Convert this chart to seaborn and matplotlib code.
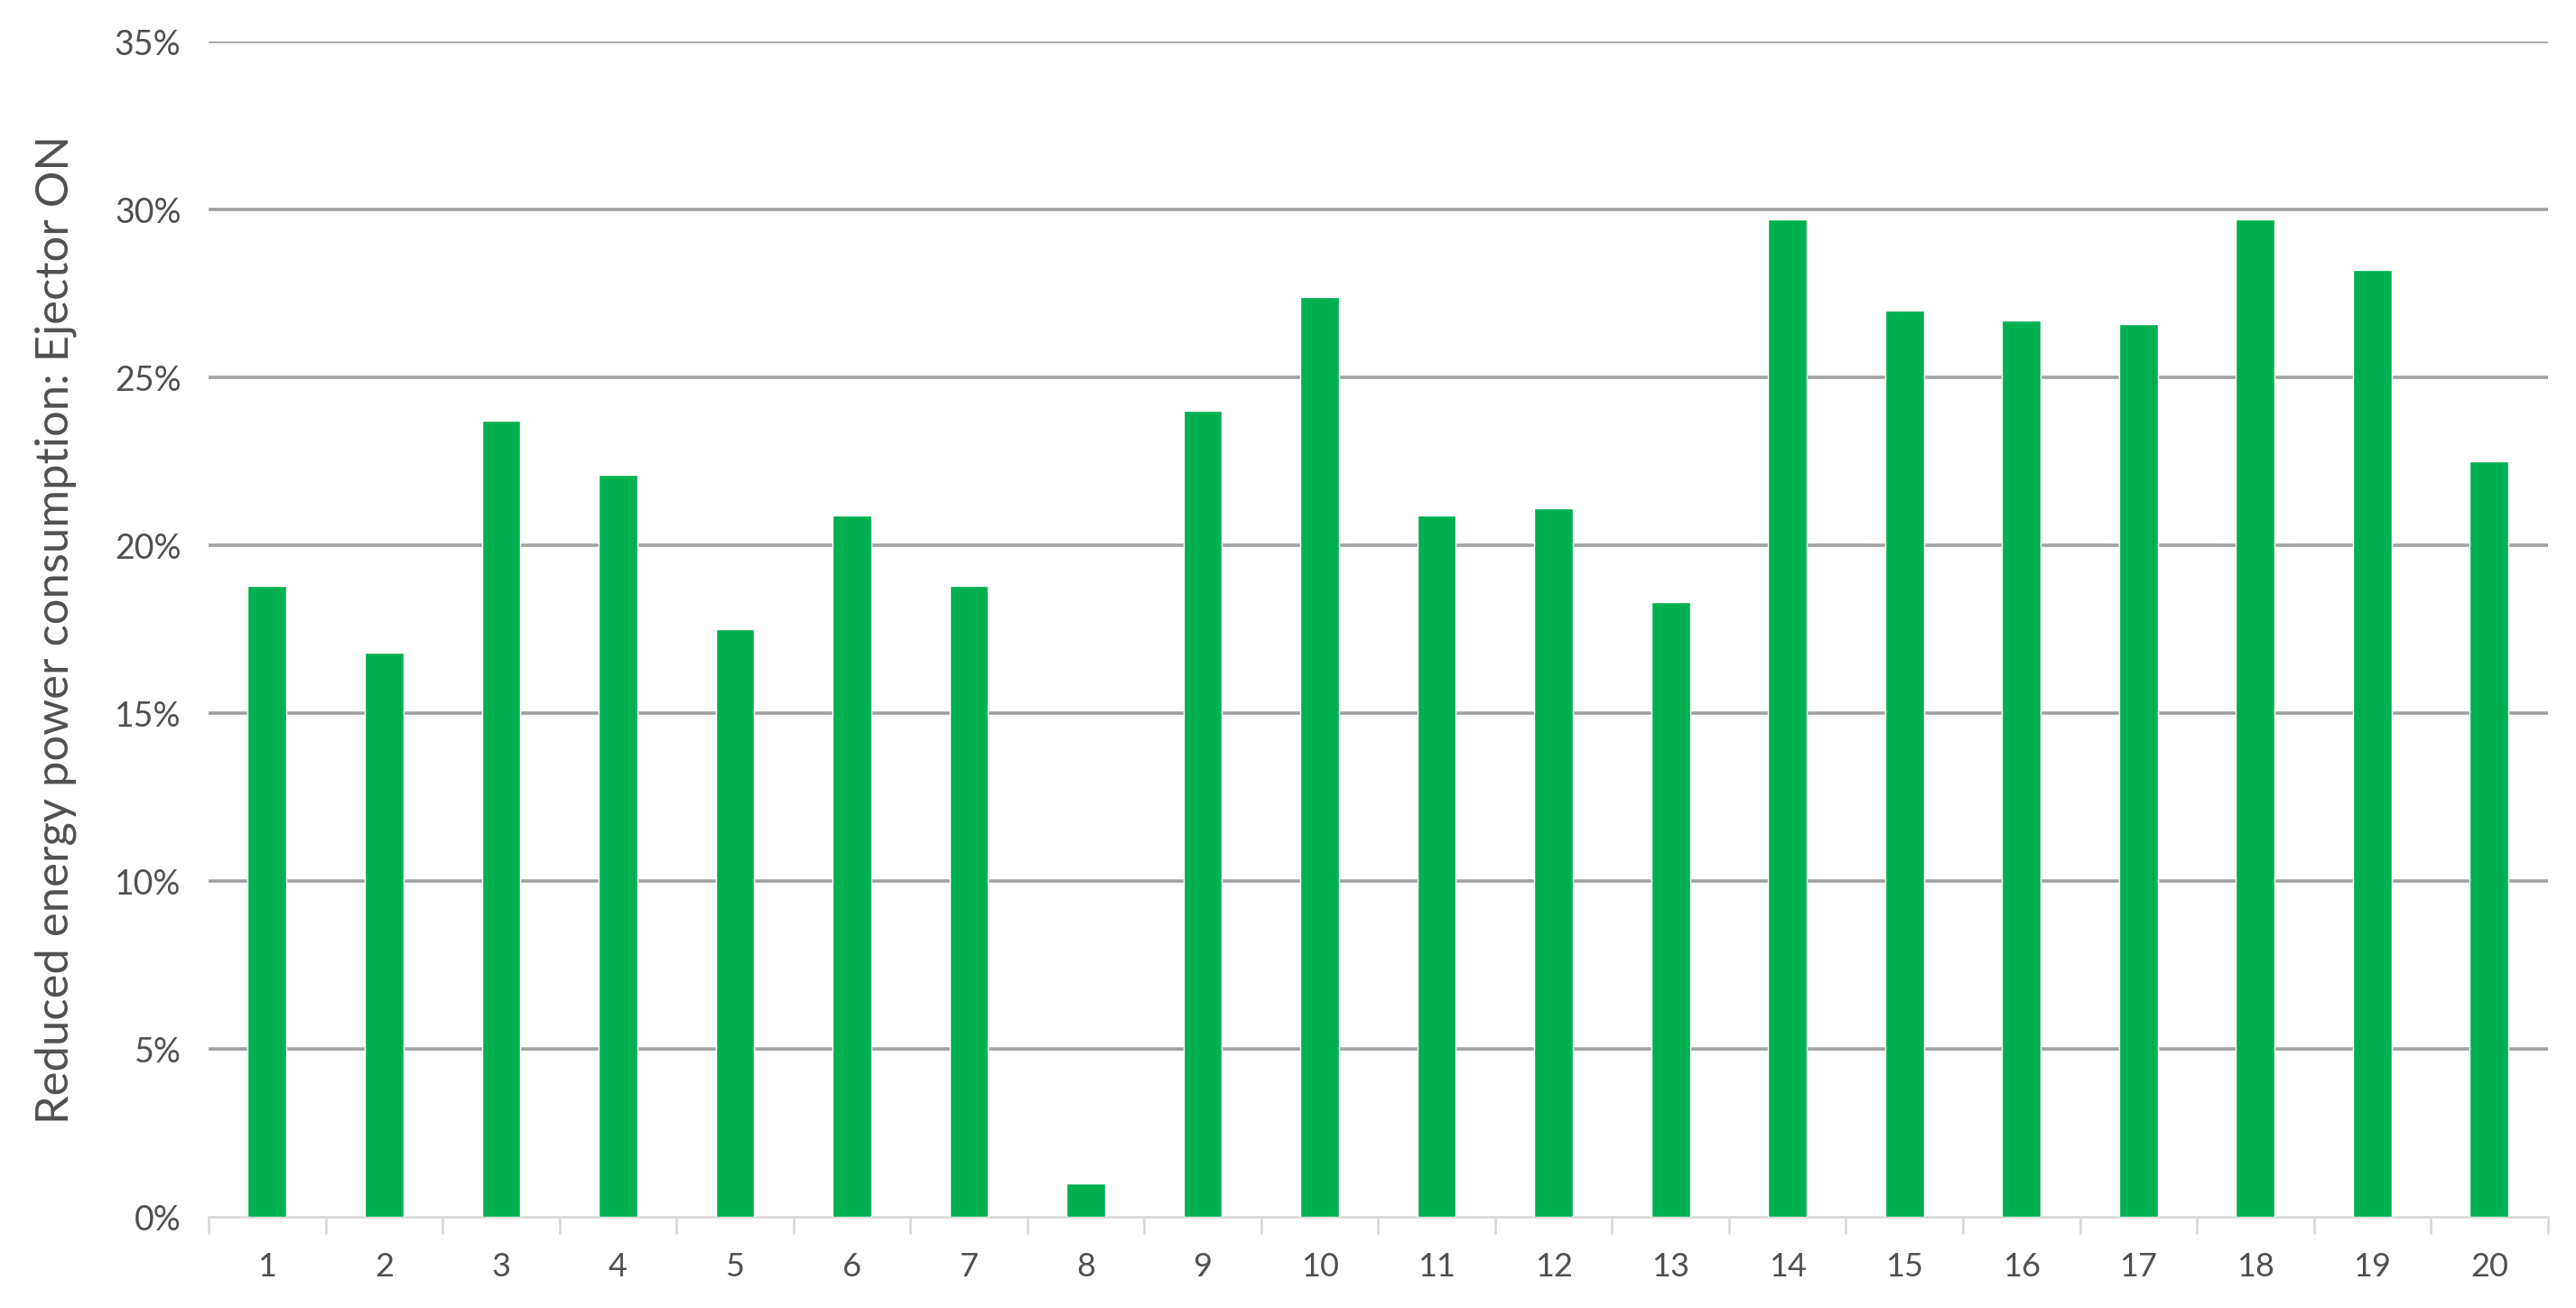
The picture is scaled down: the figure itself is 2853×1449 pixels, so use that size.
"""Bar chart: reduced energy power consumption with ejector ON, per test case."""

import matplotlib
matplotlib.use('Agg')
import matplotlib.pyplot as plt
import numpy as np
import pandas as pd
import seaborn as sns
from matplotlib.ticker import PercentFormatter

# ── Data ──────────────────────────────────────────────────────────────────
cases = [str(i) for i in range(1, 21)]
reduction = [0.188, 0.168, 0.237, 0.221, 0.175, 0.209, 0.188, 0.010, 0.240, 0.274,
             0.209, 0.211, 0.183, 0.297, 0.270, 0.267, 0.266, 0.297, 0.282, 0.225]
y_ticks = [0.0, 0.05, 0.10, 0.15, 0.20, 0.25, 0.30, 0.35]
y_label = 'Reduced energy power consumption: Ejector ON'

BAR_GREEN = '#00b050'
GRID_GREY = '#a0a0a0'
TEXT_GREY = '#505050'

sns.set_theme(style='white')
plt.rcParams['font.family'] = ['Lato', 'DejaVu Sans']

df = pd.DataFrame({'case': cases, 'reduction': reduction})

fig = plt.figure(figsize=(28.53, 14.49), dpi=100)
ax = fig.add_axes([0.081, 0.0697, 0.908, 0.8985])

sns.barplot(data=df, x='case', y='reduction', color=BAR_GREEN, saturation=1,
            width=0.33, order=cases, ax=ax, zorder=3)

ax.set_ylim(0, 0.35)
ax.set_xlim(-0.5, len(cases) - 0.5)
ax.set_yticks(y_ticks)
ax.yaxis.set_major_formatter(PercentFormatter(1.0, decimals=0))

ax.yaxis.grid(True, color=GRID_GREY, linewidth=2.6, zorder=0)
ax.set_axisbelow(True)
ax.get_ygridlines()[0].set_visible(False)

for side in ('top', 'right', 'left'):
    ax.spines[side].set_visible(False)
ax.spines['bottom'].set_color('#d9d9d9')
ax.spines['bottom'].set_linewidth(2)

# category separators on the x axis
ax.set_xticks(np.arange(-0.5, len(cases), 1), minor=True)
ax.tick_params(axis='x', which='minor', length=14, width=2, color='#d9d9d9',
               direction='out', bottom=True)
ax.tick_params(axis='x', which='major', length=0, pad=28,
               labelsize=26, labelcolor=TEXT_GREY)
ax.tick_params(axis='y', length=0, pad=22, labelsize=27, labelcolor=TEXT_GREY)

ax.set_xlabel('')
ax.set_ylabel(y_label, fontsize=36.5, color=TEXT_GREY, labelpad=30)

fig.savefig('out.png', dpi=100)
plt.close(fig)
